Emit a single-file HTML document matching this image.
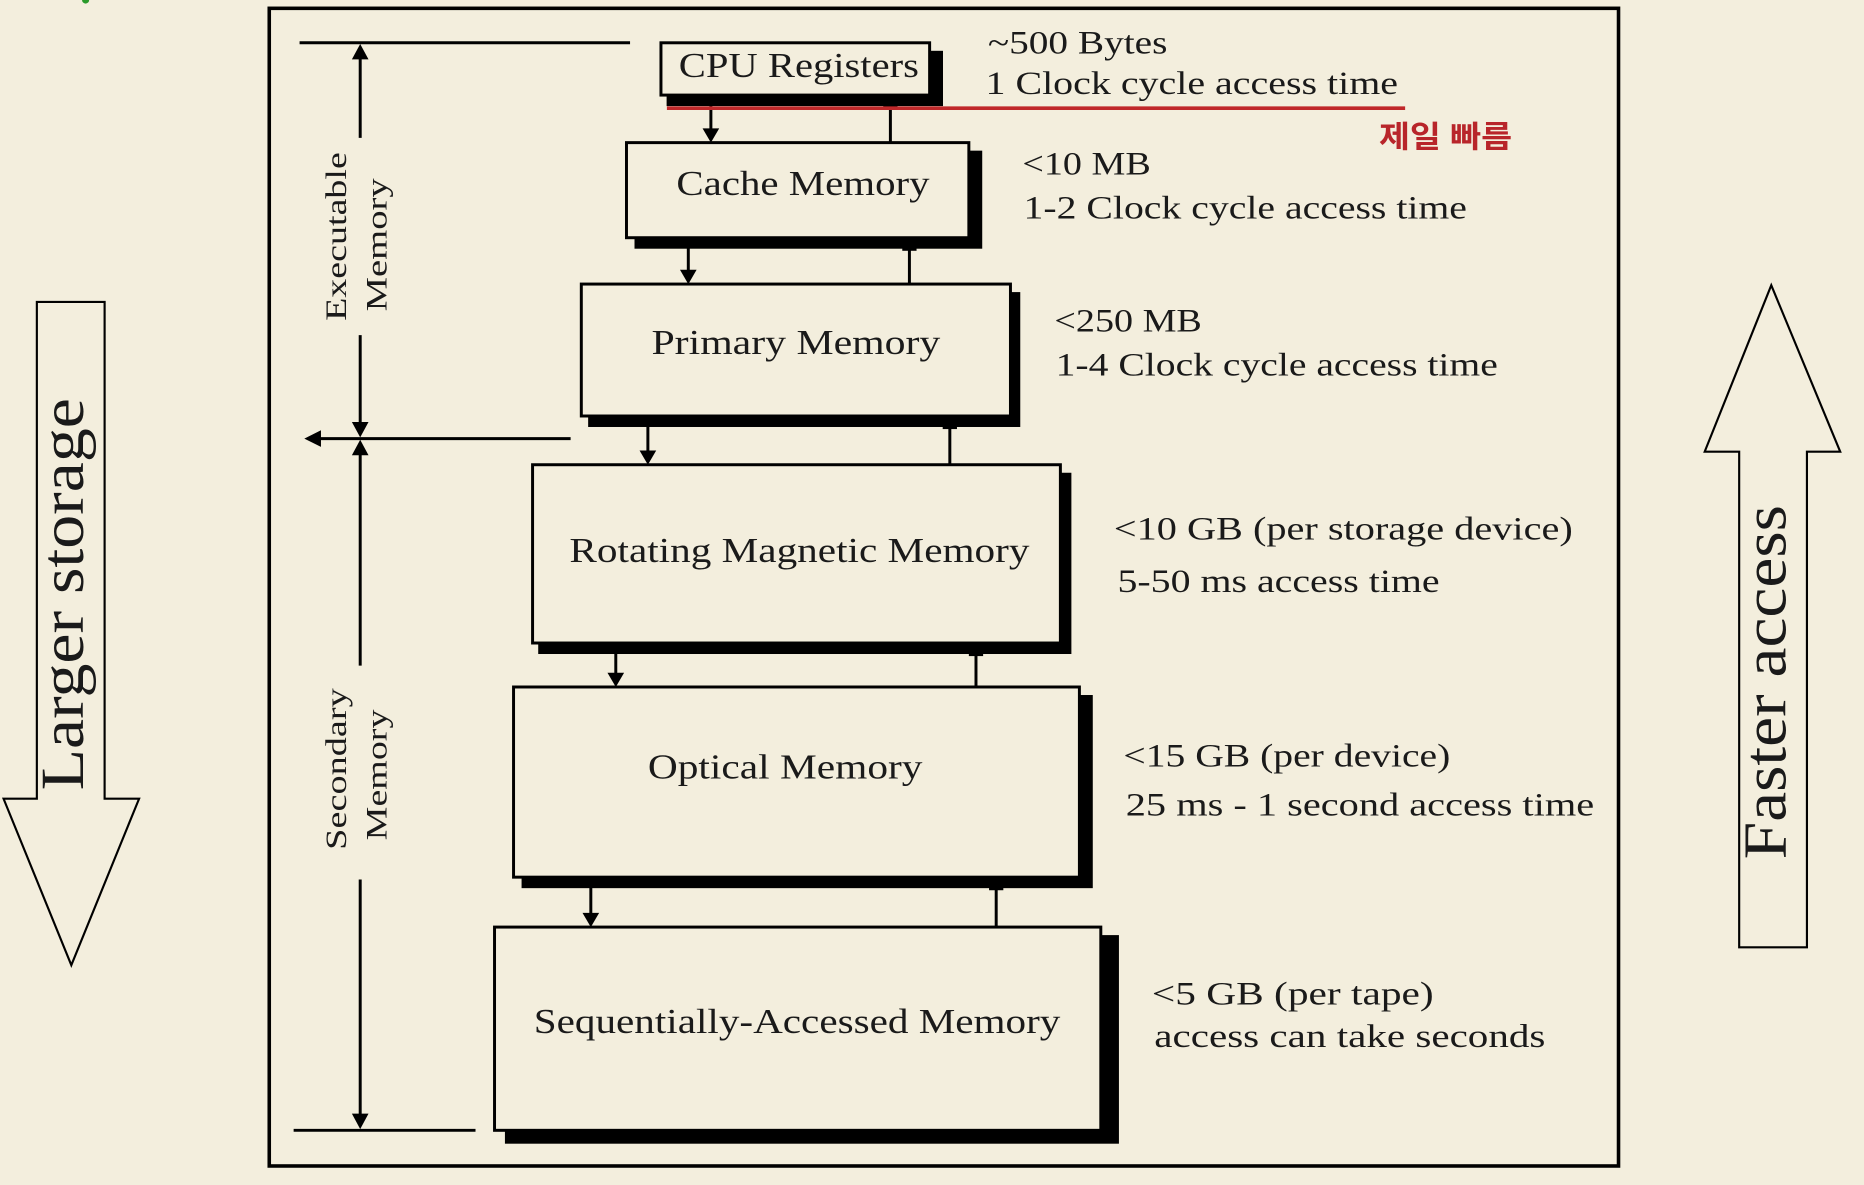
<!DOCTYPE html>
<html><head><meta charset="utf-8"><style>
html,body{margin:0;padding:0;background:#f3eedd;}
svg{display:block;}
text{font-family:"Liberation Serif",serif;fill:#1a1a1a;}
</style></head><body>
<svg width="1864" height="1185" viewBox="0 0 1568 997" preserveAspectRatio="none" xmlns="http://www.w3.org/2000/svg">
<rect x="0" y="0" width="1568" height="997" fill="#f3eedd"/>
<circle cx="72" cy="0" r="3" fill="#2a9a2a"/>
<!-- frame -->
<rect x="226.5" y="7" width="1135" height="974" fill="none" stroke="#000" stroke-width="3"/>
<!-- dimension lines -->
<g stroke="#000" stroke-width="2.5" fill="none">
<line x1="252" y1="36" x2="530" y2="36"/>
<line x1="247" y1="951" x2="400" y2="951"/>
<line x1="262" y1="369" x2="480" y2="369"/>
<line x1="303" y1="40" x2="303" y2="116"/>
<line x1="303" y1="282" x2="303" y2="362"/>
<line x1="303" y1="376" x2="303" y2="560"/>
<line x1="303" y1="740" x2="303" y2="945"/>
</g>
<g fill="#000">
<polygon points="303,37 296,50 310,50"/>
<polygon points="303,368 296,355 310,355"/>
<polygon points="303,370 296,383 310,383"/>
<polygon points="303,950 296,937 310,937"/>
<polygon points="256,369 270,362 270,376"/>
</g>
<g font-size="25">
<text transform="translate(291,199) rotate(-90)" text-anchor="middle" textLength="142" lengthAdjust="spacingAndGlyphs">Executable</text>
<text transform="translate(325,206) rotate(-90)" text-anchor="middle" textLength="112" lengthAdjust="spacingAndGlyphs">Memory</text>
<text transform="translate(291,647) rotate(-90)" text-anchor="middle" textLength="136" lengthAdjust="spacingAndGlyphs">Secondary</text>
<text transform="translate(325,652) rotate(-90)" text-anchor="middle" textLength="110" lengthAdjust="spacingAndGlyphs">Memory</text>
</g>
<!-- boxes -->
<g stroke="#000" stroke-width="2.5">
<rect x="562" y="44" width="230" height="44" fill="#000"/>
<rect x="556" y="36" width="226" height="44" fill="#f3eedd"/>
<rect x="535" y="128" width="290" height="80" fill="#000"/>
<rect x="527" y="120" width="288" height="80" fill="#f3eedd"/>
<rect x="496" y="247" width="361" height="111" fill="#000"/>
<rect x="489" y="239" width="361" height="111" fill="#f3eedd"/>
<rect x="454" y="399" width="446" height="150" fill="#000"/>
<rect x="448" y="391" width="444" height="150" fill="#f3eedd"/>
<rect x="440" y="586" width="478" height="160" fill="#000"/>
<rect x="432" y="578" width="476" height="160" fill="#f3eedd"/>
<rect x="426" y="788" width="514" height="173" fill="#000"/>
<rect x="416" y="780" width="510" height="171" fill="#f3eedd"/>
</g>
<!-- connectors -->
<g stroke="#000" stroke-width="2.5">
<line x1="598" y1="88" x2="598" y2="110"/><line x1="749" y1="88" x2="749" y2="120"/>
<line x1="579" y1="208" x2="579" y2="229"/><line x1="765" y1="208" x2="765" y2="239"/>
<line x1="545" y1="358" x2="545" y2="381"/><line x1="799" y1="358" x2="799" y2="391"/>
<line x1="518" y1="549" x2="518" y2="568"/><line x1="821" y1="549" x2="821" y2="578"/>
<line x1="497" y1="746" x2="497" y2="770"/><line x1="838" y1="746" x2="838" y2="780"/>
</g>
<g fill="#000">
<polygon points="598,120 591,108 605,108"/><rect x="743" y="85" width="12" height="6"/>
<polygon points="579,239 572,227 586,227"/><rect x="759" y="205" width="12" height="6"/>
<polygon points="545,391 538,379 552,379"/><rect x="793" y="355" width="12" height="6"/>
<polygon points="518,578 511,566 525,566"/><rect x="815" y="546" width="12" height="6"/>
<polygon points="497,780 490,768 504,768"/><rect x="832" y="743" width="12" height="6"/>
</g>
<!-- box labels -->
<g font-size="29">
<text x="571" y="65" textLength="202" lengthAdjust="spacingAndGlyphs">CPU Registers</text>
<text x="569" y="164" textLength="213" lengthAdjust="spacingAndGlyphs">Cache Memory</text>
<text x="548" y="298" textLength="243" lengthAdjust="spacingAndGlyphs">Primary Memory</text>
<text x="479" y="473" textLength="387" lengthAdjust="spacingAndGlyphs">Rotating Magnetic Memory</text>
<text x="545" y="655" textLength="231" lengthAdjust="spacingAndGlyphs">Optical Memory</text>
<text x="449" y="869" textLength="443" lengthAdjust="spacingAndGlyphs">Sequentially-Accessed Memory</text>
</g>
<!-- right texts -->
<g font-size="28">
<text x="831" y="45" textLength="151" lengthAdjust="spacingAndGlyphs">~500 Bytes</text>
<text x="829" y="79" textLength="347" lengthAdjust="spacingAndGlyphs">1 Clock cycle access time</text>
<text x="860" y="147" textLength="108" lengthAdjust="spacingAndGlyphs">&lt;10 MB</text>
<text x="861" y="184" textLength="373" lengthAdjust="spacingAndGlyphs">1-2 Clock cycle access time</text>
<text x="887" y="279" textLength="124" lengthAdjust="spacingAndGlyphs">&lt;250 MB</text>
<text x="888" y="316" textLength="372" lengthAdjust="spacingAndGlyphs">1-4 Clock cycle access time</text>
<text x="937" y="454" textLength="386" lengthAdjust="spacingAndGlyphs">&lt;10 GB (per storage device)</text>
<text x="940" y="498" textLength="271" lengthAdjust="spacingAndGlyphs">5-50 ms access time</text>
<text x="945" y="645" textLength="275" lengthAdjust="spacingAndGlyphs">&lt;15 GB (per device)</text>
<text x="947" y="686" textLength="394" lengthAdjust="spacingAndGlyphs">25 ms - 1 second access time</text>
<text x="969" y="845" textLength="237" lengthAdjust="spacingAndGlyphs">&lt;5 GB (per  tape)</text>
<text x="971" y="881" textLength="329" lengthAdjust="spacingAndGlyphs">access can take seconds</text>
</g>
<!-- red line + note -->
<line x1="561" y1="91" x2="1182" y2="91" stroke="#c0282a" stroke-width="3"/>
<text x="1160" y="124" font-size="26" style="fill:#b8252a;font-family:'Liberation Sans','Noto Sans CJK KR',sans-serif;font-weight:bold" textLength="112" lengthAdjust="spacingAndGlyphs">제일 빠름</text>
<!-- big arrows -->
<polygon points="31,254 88,254 88,672 117,672 60,812 3,672 31,672" fill="none" stroke="#000" stroke-width="1.8"/>
<text transform="translate(70,500) rotate(-90)" font-size="52" text-anchor="middle" textLength="330" lengthAdjust="spacingAndGlyphs">Larger storage</text>
<polygon points="1463,797 1520,797 1520,380 1548,380 1490,240 1434,380 1463,380" fill="none" stroke="#000" stroke-width="1.8"/>
<text transform="translate(1502,574) rotate(-90)" font-size="52" text-anchor="middle" textLength="298" lengthAdjust="spacingAndGlyphs">Faster access</text>
</svg>
</body></html>
